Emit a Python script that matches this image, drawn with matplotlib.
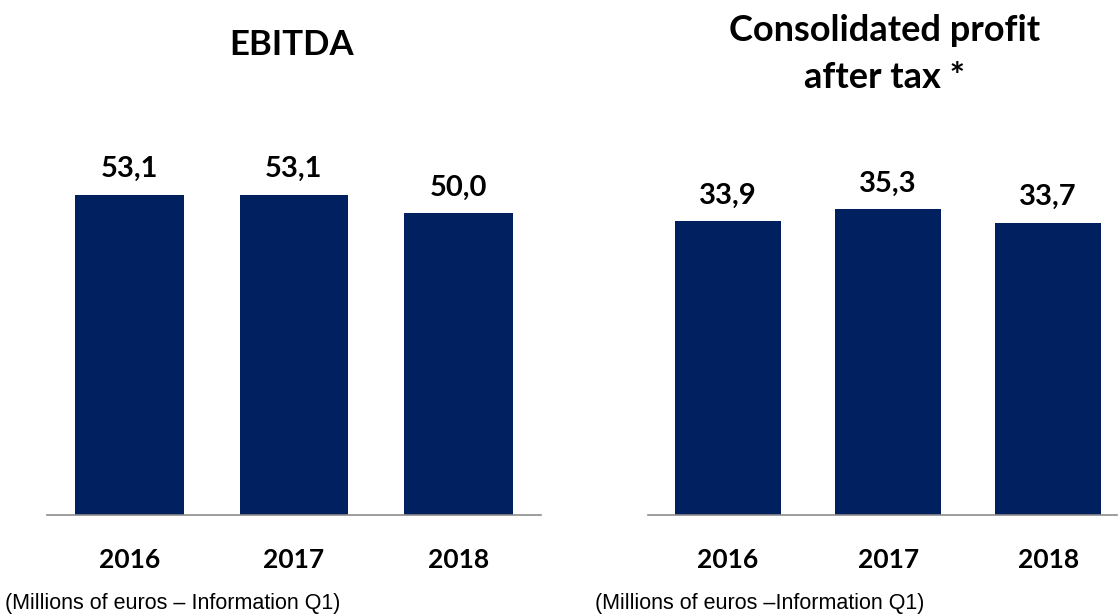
import matplotlib.pyplot as plt

years = ['2016', '2017', '2018']
ebitda = [53.1, 53.1, 50.0]
profit = [33.9, 35.3, 33.7]

BAR_COLOR = '#002060'
BOLD_FONT = ['Lato', 'DejaVu Sans']

fig = plt.figure(figsize=(11.19, 6.15), dpi=100)

W, H = 1119, 615


def panel(left_px, right_px, values, y_top, xmax):
    ax = fig.add_axes([left_px / W, 100 / H, (right_px - left_px) / W, 515 / H])
    x = range(len(values))
    ax.bar(x, values, width=0.66, color=BAR_COLOR)
    for xi, v in zip(x, values):
        ax.annotate(f'{v:.1f}'.replace('.', ','), (xi, v), xytext=(0, 9),
                    textcoords='offset points', ha='center', va='bottom',
                    fontsize=21, fontweight='bold', family=BOLD_FONT)
    ax.set_xlim(-0.5, xmax)
    ax.set_ylim(0, y_top)
    ax.set_xticks(list(x), labels=years)
    ax.tick_params(axis='x', length=0, pad=24, labelsize=19)
    for lab in ax.get_xticklabels():
        lab.set_fontweight('bold')
        lab.set_family(BOLD_FONT)
    ax.set_yticks([])
    for side in ['top', 'right', 'left']:
        ax.spines[side].set_visible(False)
    ax.spines['bottom'].set_color('#8c8c8c')
    ax.spines['bottom'].set_linewidth(1.2)
    ax.patch.set_alpha(0)
    return ax


panel(47, 541, ebitda, 85.4, 2.5)
panel(648, 1117, profit, 59.4, 2.43)

fig.text(292 / W, 1 - 45 / H, 'EBITDA', ha='center', va='center',
         fontsize=25, fontweight='bold', family=BOLD_FONT)
fig.text(885 / W, 1 - 54 / H, 'Consolidated profit\nafter tax *', ha='center',
         va='center', fontsize=26, fontweight='bold', family=BOLD_FONT,
         linespacing=1.5)

fig.text(5 / W, 1 - 603 / H, '(Millions of euros \u2013 Information Q1)',
         ha='left', va='center', fontsize=15.5, family=['Liberation Sans'])
fig.text(595 / W, 1 - 603 / H, '(Millions of euros \u2013Information Q1)',
         ha='left', va='center', fontsize=15.5, family=['Liberation Sans'])

fig.savefig('out.png', dpi=100)
